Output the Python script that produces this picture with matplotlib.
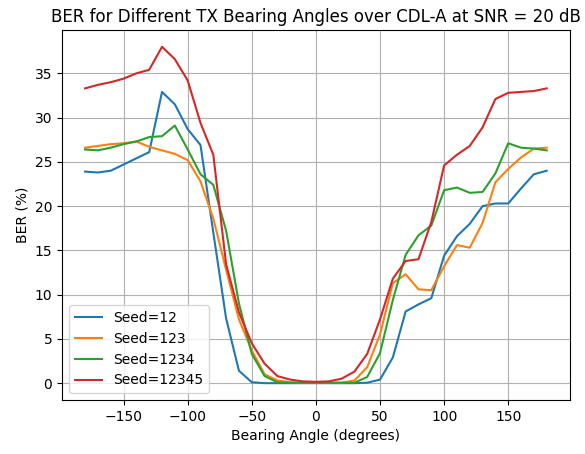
import numpy as np
import matplotlib
matplotlib.use("Agg")
import matplotlib.pyplot as plt

angles = list(range(-180, 181, 10))

ber_seed12 = [23.9, 23.8, 24.0, 24.7, 25.4, 26.1, 32.9, 31.5, 28.7, 26.9, 17.0, 7.3, 1.4, 0.1,
              0.0, 0.0, 0.0, 0.0, 0.0, 0.0, 0.0, 0.0, 0.05, 0.4, 2.9, 8.1, 8.9, 9.6, 14.4,
              16.6, 18.0, 20.0, 20.3, 20.3, 22.0, 23.6, 24.0]
ber_seed123 = [26.6, 26.8, 27.0, 27.1, 27.3, 26.7, 26.3, 25.9, 25.2, 22.8, 18.6, 12.8, 7.2, 3.7,
               1.0, 0.3, 0.1, 0.05, 0.05, 0.05, 0.05, 0.3, 1.8, 5.5, 11.3, 12.3, 10.6, 10.5,
               13.2, 15.6, 15.3, 18.1, 22.7, 24.2, 25.5, 26.5, 26.6]
ber_seed1234 = [26.4, 26.3, 26.6, 27.0, 27.3, 27.8, 27.9, 29.1, 26.4, 23.6, 22.4, 17.2, 9.0, 3.3,
                0.8, 0.1, 0.05, 0.05, 0.05, 0.05, 0.05, 0.05, 0.7, 3.4, 9.4, 14.5, 16.7, 17.8,
                21.8, 22.1, 21.5, 21.6, 23.7, 27.1, 26.6, 26.5, 26.3]
ber_seed12345 = [33.3, 33.7, 34.0, 34.4, 35.0, 35.4, 38.0, 36.6, 34.2, 29.4, 25.8, 13.4, 8.0, 4.5,
                 2.2, 0.8, 0.4, 0.2, 0.15, 0.2, 0.5, 1.3, 3.3, 7.2, 11.8, 13.8, 14.0, 18.2,
                 24.6, 25.8, 26.8, 28.9, 32.1, 32.8, 32.9, 33.0, 33.3]

series = [("Seed=12", ber_seed12), ("Seed=123", ber_seed123),
          ("Seed=1234", ber_seed1234), ("Seed=12345", ber_seed12345)]

fig, ax = plt.subplots(figsize=(5.85, 4.54), dpi=100)
for label, vals in series:
    ax.plot(angles, vals, label=label)
ax.set_xlabel("Bearing Angle (degrees)")
ax.set_ylabel("BER (%)")
ax.set_title("BER for Different TX Bearing Angles over CDL-A at SNR = 20 dB")
ax.grid(True)
ax.legend(loc="lower left")
fig.subplots_adjust(left=0.106, right=0.974, top=0.934, bottom=0.119)
fig.savefig("out.png", dpi=100)
